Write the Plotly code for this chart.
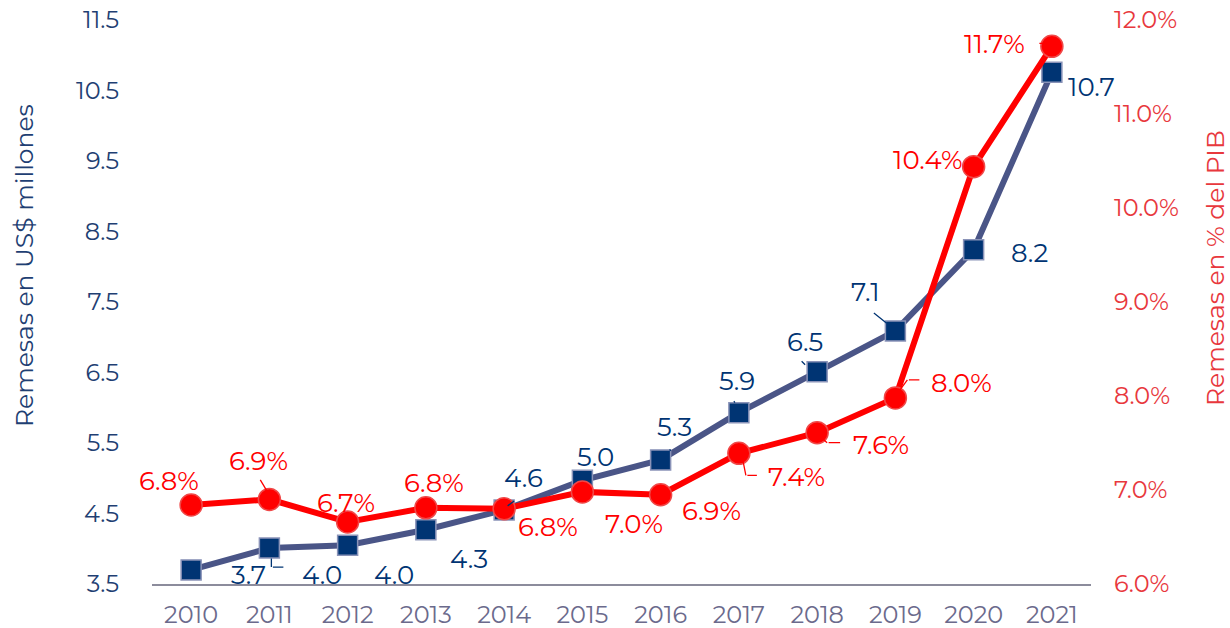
import plotly.graph_objects as go

years = list(range(2010, 2022))
remesas_usd = [3.70, 4.01, 4.05, 4.27, 4.55, 4.97, 5.26, 5.93, 6.51, 7.09, 8.24, 10.76]
remesas_usd_labels = ["3.7", "4.0", "4.0", "4.3", "4.6", "5.0", "5.3", "5.9", "6.5", "7.1", "8.2", "10.7"]
remesas_pib = [6.84, 6.90, 6.66, 6.81, 6.80, 6.98, 6.95, 7.39, 7.61, 7.98, 10.44, 11.72]
remesas_pib_labels = ["6.8%", "6.9%", "6.7%", "6.8%", "6.8%", "7.0%", "6.9%", "7.4%", "7.6%", "8.0%", "10.4%", "11.7%"]

left_ticks = [3.5, 4.5, 5.5, 6.5, 7.5, 8.5, 9.5, 10.5, 11.5]
right_ticks = [6, 7, 8, 9, 10, 11, 12]

# label offsets in pixels (dx right, dy down)
blue_off = [(57, 5), (53, 27), (46, 30), (43, 29), (19, -32), (13, -23), (14, -33),
            (-2, -32), (-12, -30), (-30, -39), (56, 3), (40, 15)]
red_off = [(-22, -24), (-11, -38), (-2, -19), (8, -25), (44, 18), (52, 32), (51, 16),
           (58, 24), (64, 12), (66, -15), (-46, -7), (-57, -2)]

# leader lines: point index -> polyline in pixel offsets from the point (dx right, dy down)
blue_leaders = {1: [(2, 9), (2, 19), (14, 19)], 4: [(2, -3), (10, -9)], 6: [(8, -12), (10, -9)],
                7: [(-6, -13), (-4, -10)], 8: [(-17, -12), (-12, -7)], 9: [(-23, -19), (-9, -8)]}
red_leaders = {1: [(-10, -21), (2, -1)], 7: [(4, 7), (7, 22), (18, 22)], 8: [(3, 4), (10, 10), (23, 10)],
               9: [(1, -3), (12, -18), (24, -18)], 11: [(-14, -3), (-4, -3)]}

NAVY = "#003473"
BLUE_LINE = "#4a5587"
RED = "#ff0000"
FONT = "Montserrat, Open Sans, sans-serif"

fig = go.Figure()
fig.add_trace(go.Scatter(
    x=years, y=remesas_usd, mode="lines+markers", yaxis="y",
    line=dict(color=BLUE_LINE, width=6),
    marker=dict(symbol="square", size=20, color=NAVY, line=dict(color="#8a93b8", width=1.5)),
    showlegend=False, hoverinfo="skip"))
fig.add_trace(go.Scatter(
    x=years, y=remesas_pib, mode="lines+markers", yaxis="y2",
    line=dict(color=RED, width=6),
    marker=dict(symbol="circle", size=22, color=RED, line=dict(color="#f04848", width=1.5)),
    showlegend=False, hoverinfo="skip"))

ann = []


def add_leaders(leaders, xs, ys, yref, color):
    for i, pts in leaders.items():
        for (ax0, ay0), (bx, by) in zip(pts[:-1], pts[1:]):
            ann.append(dict(x=xs[i], y=ys[i], xref="x", yref=yref, text="", showarrow=True,
                            arrowhead=0, arrowwidth=1.3, arrowcolor=color, standoff=0, startstandoff=0,
                            xshift=bx, yshift=-by, ax=ax0 - bx, ay=ay0 - by))


add_leaders(blue_leaders, years, remesas_usd, "y", NAVY)
add_leaders(red_leaders, years, remesas_pib, "y2", RED)

for x, y, t, (dx, dy) in zip(years, remesas_usd, remesas_usd_labels, blue_off):
    ann.append(dict(x=x, y=y, xref="x", yref="y", text=t, showarrow=False,
                    xshift=dx, yshift=-dy, font=dict(size=26, color=NAVY, family=FONT)))
for x, y, t, (dx, dy) in zip(years, remesas_pib, remesas_pib_labels, red_off):
    ann.append(dict(x=x, y=y, xref="x", yref="y2", text=t, showarrow=False,
                    xshift=dx, yshift=-dy, font=dict(size=26, color=RED, family=FONT)))
ann.append(dict(x=0, y=0.5, xref="paper", yref="paper", xshift=-145, yshift=36,
                text="Remesas en US$ millones",
                textangle=-90, showarrow=False, font=dict(size=25, color="#1f3f73", family=FONT)))
ann.append(dict(x=1, y=0.5, xref="paper", yref="paper", xshift=141, yshift=34,
                text="Remesas en % del PIB",
                textangle=-90, showarrow=False, font=dict(size=25, color="#e8383d", family=FONT)))

fig.update_layout(
    width=1230, height=628,
    margin=dict(l=152, r=139, t=20, b=44, autoexpand=False),
    paper_bgcolor="white", plot_bgcolor="white",
    font=dict(family=FONT),
    annotations=ann,
    xaxis=dict(range=[2009.5, 2021.5], tickvals=years, ticktext=[str(y) for y in years],
               showgrid=False, zeroline=False, showline=True, automargin=False,
               linecolor="#8c8c9c", linewidth=1.5, ticks="", ticklabelstandoff=8,
               tickfont=dict(size=24, color="#6b6a8c")),
    yaxis=dict(range=[3.5, 11.5], tickvals=left_ticks, ticktext=[f"{v:.1f}" for v in left_ticks],
               showgrid=False, zeroline=False, showline=False, ticks="", automargin=False,
               ticklabelstandoff=32, tickfont=dict(size=24, color="#1f3f73")),
    yaxis2=dict(range=[6, 12], tickvals=right_ticks, ticktext=[f"{v:.1f}%" for v in right_ticks],
                overlaying="y", side="right", showgrid=False, zeroline=False, showline=False,
                ticks="", ticklabelstandoff=22, automargin=False, tickfont=dict(size=24, color="#e8383d")),
)

fig.write_html("out.html", config={"displayModeBar": False},
               post_script="document.body.style.margin='0';")
